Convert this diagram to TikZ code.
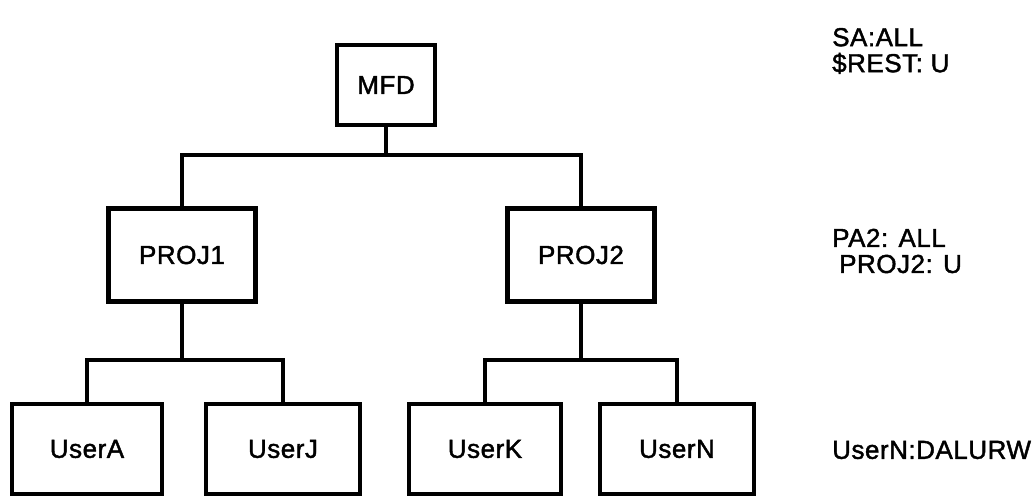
\documentclass[tikz,border=0pt]{standalone}
\usepackage{fontspec}
\setmainfont[FakeBold=1.6,LetterSpace=2]{Liberation Sans}
\begin{document}
\begin{tikzpicture}[x=1pt,y=-1pt,
  box/.style={draw, line width=4.5pt, inner sep=0pt, font=\fontsize{26}{30}\selectfont},
  conn/.style={line width=4.5pt},
  note/.style={anchor=west, inner sep=0pt, align=left, font=\fontsize{26}{26}\selectfont}]
\useasboundingbox (0,0) rectangle (1035,497);
\node[box, minimum width=98pt, minimum height=80pt] (mfd) at (386,85) {MFD};
\node[box, minimum width=147pt, minimum height=93pt] (proj1) at (182,255) {PROJ1};
\node[box, minimum width=147pt, minimum height=93pt] (proj2) at (581,255) {PROJ2};
\node[box, minimum width=150pt, minimum height=90pt] (usera) at (87,449) {UserA};
\node[box, minimum width=154pt, minimum height=90pt] (userj) at (283,449) {UserJ};
\node[box, minimum width=152pt, minimum height=90pt] (userk) at (485,449) {UserK};
\node[box, minimum width=154pt, minimum height=90pt] (usern) at (677,449) {UserN};
\coordinate (b0) at (386,155);
\coordinate (b1) at (182,360);
\coordinate (b2) at (581,360);
\draw[conn] (mfd.south) -- (b0);
\draw[conn] (proj1.north) |- (b0) -| (proj2.north);
\draw[conn] (proj1.south) -- (b1);
\draw[conn] (usera.north) |- (b1) -| (userj.north);
\draw[conn] (proj2.south) -- (b2);
\draw[conn] (userk.north) |- (b2) -| (usern.north);
\node[note] (n1) at (832,51) {SA:ALL\\\$REST: U};
\node[note] (n2) at (832,251) {PA2: ALL\\\hspace{7pt}PROJ2: U};
\node[note] (n3) at (832,450) {UserN:DALURW};
\end{tikzpicture}
\end{document}
